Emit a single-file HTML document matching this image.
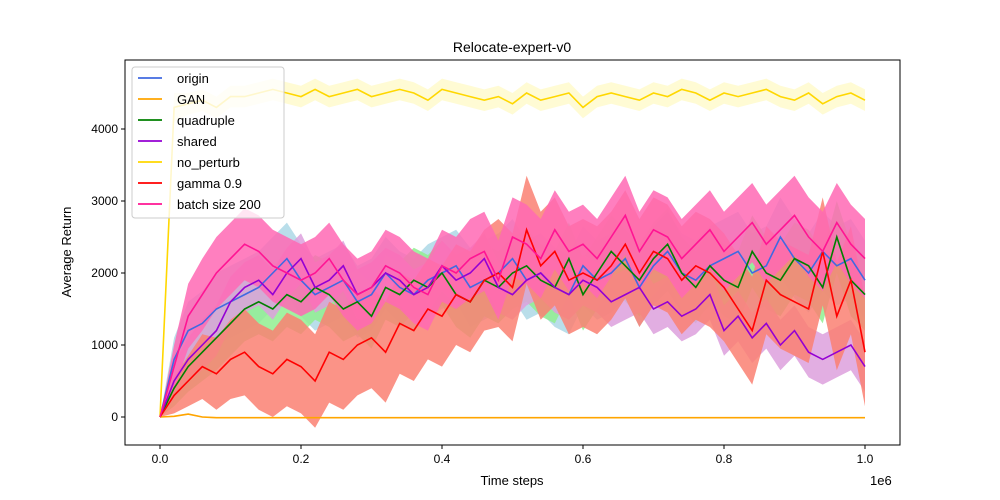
<!DOCTYPE html>
<html><head><meta charset="utf-8">
<style>
body{margin:0;background:#fff;}
svg{display:block;font-family:"Liberation Sans","DejaVu Sans",sans-serif;}
</style></head>
<body>
<svg id="chart" width="1000" height="500"></svg>
<script>
const xs = [0,0.02,0.04,0.06,0.08,0.1,0.12,0.14,0.16,0.18,0.2,0.22,0.24,0.26,0.28,0.3,0.32,0.34,0.36,0.38,0.4,0.42,0.44,0.46,0.48,0.5,0.52,0.54,0.56,0.58,0.6,0.62,0.64,0.66,0.68,0.7,0.72,0.74,0.76,0.78,0.8,0.82,0.84,0.86,0.88,0.9,0.92,0.94,0.96,0.98,1.0];
const seriesNames = ["origin","GAN","quadruple","shared","no_perturb","gamma 0.9","batch size 200"];
const originVals = [0,800,1200,1300,1500,1600,1700,1800,2000,2200,1900,1700,1800,1900,1600,1700,2000,1800,1700,1900,2000,2100,1800,1900,2000,2200,1900,2000,1800,1700,2100,1900,2000,2200,1800,2100,2300,2000,1900,2100,2200,2300,2000,2100,2500,2200,2000,2300,2100,2200,1900];
const originStd = [0,300,400,450,500,500,500,500,500,500,500,500,500,500,500,500,500,500,500,500,500,500,550,550,550,550,550,550,550,550,550,550,550,550,550,550,550,550,550,550,550,550,550,550,550,550,550,550,550,550,550];
const ganVals = [0,10,40,0,-10,-10,-10,-10,-10,-10,-10,-10,-10,-10,-10,-10,-10,-10,-10,-10,-10,-10,-10,-10,-10,-10,-10,-10,-10,-10,-10,-10,-10,-10,-10,-10,-10,-10,-10,-10,-10,-10,-10,-10,-10,-10,-10,-10,-10,-10,-10];
const ganStd = [0,10,10,10,10,10,10,10,10,10,10,10,10,10,10,10,10,10,10,10,10,10,10,10,10,10,10,10,10,10,10,10,10,10,10,10,10,10,10,10,10,10,10,10,10,10,10,10,10,10,10];
const quadVals = [0,400,700,900,1100,1300,1500,1600,1500,1700,1600,1800,1700,1500,1600,1400,1800,1700,1900,1800,2000,1700,1600,1900,1800,2000,2100,1900,1800,2200,1700,2000,2300,2100,1900,2200,2400,2000,1800,2100,1900,1800,2300,2000,1900,2200,2100,1800,2500,1900,1700];
const quadStd = [0,250,350,400,450,450,450,450,450,450,450,450,450,450,450,450,450,450,450,450,450,450,500,500,500,500,500,500,500,500,500,500,500,500,500,500,500,500,500,500,500,500,500,500,500,500,500,500,500,500,500];
const sharedVals = [0,500,800,1000,1200,1600,1800,1900,1700,2000,2200,1800,1900,2100,1700,1800,2000,1900,1700,1800,2100,1900,2000,2200,1800,1700,1900,2000,1800,1700,1900,1800,1600,1700,1800,1500,1600,1400,1500,1700,1200,1400,1100,1300,1000,1200,900,800,900,1000,700];
const sharedStd = [0,250,300,350,350,350,350,350,350,350,350,350,350,350,350,350,350,350,350,350,350,350,350,350,350,350,350,350,350,350,350,350,350,350,350,350,350,350,350,350,350,350,350,350,350,350,350,350,350,350,350];
const noPerturbVals = [0,4300,4350,4400,4300,4450,4450,4500,4550,4500,4450,4550,4450,4500,4550,4450,4500,4550,4500,4400,4550,4500,4450,4400,4450,4350,4500,4400,4450,4500,4300,4450,4500,4450,4400,4500,4450,4550,4500,4400,4500,4450,4500,4550,4450,4400,4500,4350,4450,4500,4400];
const noPerturbStd = [0,200,150,150,150,150,150,150,150,150,150,150,150,150,150,150,150,150,150,150,150,150,150,150,150,150,150,150,150,150,150,150,150,150,150,150,150,150,150,150,150,150,150,150,150,150,150,150,150,150,150];
const gammaVals = [0,300,500,700,600,800,900,700,600,800,700,500,900,800,1000,1100,900,1300,1200,1500,1400,1700,1600,1900,2000,1800,2600,2100,2300,1900,2000,1900,2100,2400,2000,2300,2200,1900,2100,2000,1800,1500,1200,1900,1700,1600,1500,2300,1400,1900,900];
const gammaStd = [0,250,350,450,500,550,600,600,600,650,650,650,700,700,700,700,700,700,700,700,700,700,700,700,750,750,750,750,750,750,750,750,750,750,750,750,750,750,750,750,750,750,750,750,750,750,750,750,750,750,750];
const batchVals = [0,700,1400,1700,2000,2200,2400,2300,2100,2000,1900,2000,2200,1900,1700,1800,2100,2000,1800,1700,2100,2000,2200,2300,1900,2500,2400,2200,2600,2300,2400,2200,2500,2800,2300,2600,2500,2200,2400,2600,2300,2500,2700,2400,2600,2800,2500,2300,2700,2400,2200];
const batchStd = [0,300,450,500,500,500,500,500,500,500,500,500,500,500,500,500,500,500,500,500,500,500,550,550,550,550,550,550,550,550,550,550,550,550,550,550,550,550,550,550,550,550,550,550,550,550,550,550,550,550,550];
const xTickVals = [0,0.2,0.4,0.6,0.8,1.0];
const xTickLabels = ["0.0","0.2","0.4","0.6","0.8","1.0"];
const yTickVals = [0,1000,2000,3000,4000];
const yTickLabels = ["0","1000","2000","3000","4000"];

const NS = "http://www.w3.org/2000/svg";
const svg = document.getElementById('chart');
const L=125,R=900,T=60,B=445;
const xScale = v => 160 + v*705;
const yScale = v => 417 - v*0.072;
function mk(tag, attrs, parent){const e=document.createElementNS(NS,tag);for(const k in attrs)e.setAttribute(k,attrs[k]);(parent||svg).appendChild(e);return e;}

const series = [
 {vals:originVals,std:originStd,line:"#4169e1",band:"#add8e6",name:"origin"},
 {vals:ganVals,std:ganStd,line:"#ffa500",band:"#ffdead",name:"gan"},
 {vals:quadVals,std:quadStd,line:"#008000",band:"#90ee90",name:"quadruple"},
 {vals:sharedVals,std:sharedStd,line:"#9400d3",band:"#dda0dd",name:"shared"},
 {vals:noPerturbVals,std:noPerturbStd,line:"#ffd700",band:"#fffacd",name:"no-perturb"},
 {vals:gammaVals,std:gammaStd,line:"#ff0000",band:"#fa8072",name:"gamma-0-9"},
 {vals:batchVals,std:batchStd,line:"#ff1493",band:"#ff69b4",name:"batch-size-200"}
];
const plot = mk('g',{});


series.forEach(s=>{
  let up = s.vals.map((v,i)=>xScale(xs[i])+','+yScale(v+s.std[i]));
  let lo = s.vals.map((v,i)=>xScale(xs[i])+','+yScale(v-s.std[i])).reverse();
  const p = mk('polygon',{points:up.concat(lo).join(' '),fill:s.band,opacity:0.85},plot);
  
  
});
series.forEach(s=>{
  const p = mk('polyline',{points:s.vals.map((v,i)=>xScale(xs[i])+','+yScale(v)).join(' '),fill:'none',stroke:s.line,'stroke-width':1.6},plot);
  
  
});
const frame = mk('rect',{x:L,y:T,width:R-L,height:B-T,fill:'none',stroke:'#000','stroke-width':1});


xTickVals.forEach((v,i)=>{
  const x=xScale(v);
  mk('line',{x1:x,x2:x,y1:B,y2:B+4,stroke:'#000'});
  const t=mk('text',{x:x,y:B+18,'text-anchor':'middle','font-size':12});
  t.textContent=xTickLabels[i];
  
  
});
yTickVals.forEach((v,i)=>{
  const y=yScale(v);
  mk('line',{x1:L-4,x2:L,y1:y,y2:y,stroke:'#000'});
  const t=mk('text',{x:L-7,y:y+4,'text-anchor':'end','font-size':12});
  t.textContent=yTickLabels[i];
  
  
});
</script>
<script>
(function(){
const svg=document.getElementById('chart');const NS="http://www.w3.org/2000/svg";
function mk(tag,attrs){const e=document.createElementNS(NS,tag);for(const k in attrs)e.setAttribute(k,attrs[k]);svg.appendChild(e);return e;}
let t=mk('text',{x:512,y:52,'text-anchor':'middle','font-size':14});t.textContent='Relocate-expert-v0';


t=mk('text',{x:512,y:485,'text-anchor':'middle','font-size':13});t.textContent='Time steps';


t=mk('text',{x:870,y:485,'font-size':13});t.textContent='1e6';


t=mk('text',{x:71,y:252,'text-anchor':'middle','font-size':13,transform:'rotate(-90 71 252)'});t.textContent='Average Return';


const lg=mk('rect',{x:132,y:67,width:152,height:151,rx:3,fill:'#fff','fill-opacity':0.8,stroke:'#ccc'});


const cols=["#4169e1","#ffa500","#008000","#9400d3","#ffd700","#ff0000","#ff1493"];
seriesNames.forEach((n,i)=>{
  const y=78+i*21;
  const l=mk('line',{x1:138,x2:162,y1:y,y2:y,stroke:cols[i],'stroke-width':1.8});
  
  
  const tx=mk('text',{x:177,y:y+5,'font-size':13});tx.textContent=n;
  
  
});
})();
</script>
</body></html>
